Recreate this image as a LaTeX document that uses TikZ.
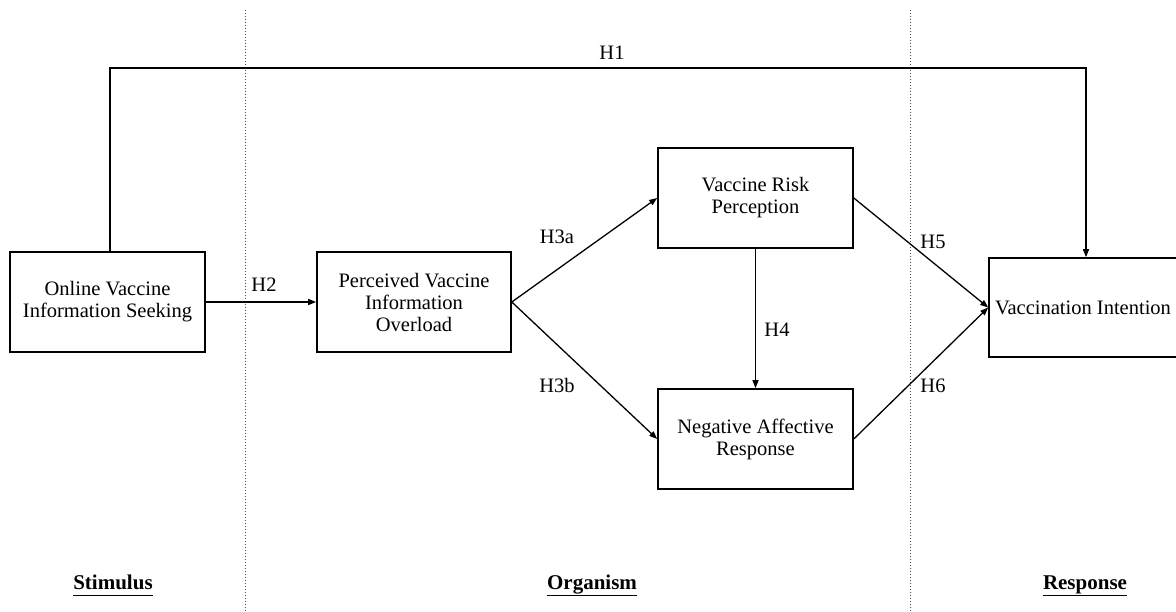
\documentclass[tikz,border=0pt]{standalone}
\usepackage{fontspec}
\setmainfont{Liberation Serif}
\usetikzlibrary{arrows.meta}
\begin{document}
\begin{tikzpicture}[x=1pt,y=-1pt,
  box/.style={draw,line width=1.6pt,rectangle,align=center,inner sep=0pt,
    font=\fontsize{20.5}{22}\selectfont},
  arr/.style={line width=1.3pt,-{Triangle[length=8pt,width=6pt]}},
  lab/.style={font=\fontsize{20.5}{22}\selectfont,inner sep=0pt},
  sect/.style={font=\fontsize{21}{24}\selectfont\bfseries,inner sep=0pt,anchor=base},
  divider/.style={dotted,line width=1pt,gray!60!black}]
\useasboundingbox (0,0) rectangle (1176,612);
\clip (0,0) rectangle (1176,612);
% dividers
\coordinate (d1t) at (245,10);
\coordinate (d1b) at (245,612);
\coordinate (d2t) at (910,10);
\coordinate (d2b) at (910,612);
\draw[divider] (d1t) -- (d1b);
\draw[divider] (d2t) -- (d2b);
% boxes
\node[box,minimum width=195pt,minimum height=100pt] (on) at (107.5,302) {Online Vaccine\\Information Seeking};
\node[box,minimum width=194pt,minimum height=100pt] (pv) at (414,302) {Perceived Vaccine\\Information\\Overload};
\node[box,minimum width=195pt,minimum height=100pt] (vrp) at (755.5,198) {Vaccine Risk\\Perception};
\node[box,minimum width=195pt,minimum height=100pt] (nar) at (755.5,439) {Negative Affective\\Response};
\node[box,minimum width=188pt,minimum height=99pt] (vi) at (1083,307.5) {Vaccination Intention};
% H1
\coordinate (h1a) at (110,68);
\coordinate (h1b) at (1086,68);
\draw[arr] (on.north -| h1a) -- (h1a) -- (h1b) -- (vi.north -| h1b);
% other paths
\draw[arr] (on.east) -- (pv.west);
\draw[arr] (pv.east) -- (vrp.west);
\draw[arr] (pv.east) -- (nar.west);
\draw[arr] (vrp.south) -- (nar.north);
\draw[arr] (vrp.east) -- (vi.west);
\draw[arr] (nar.east) -- (vi.west);
% labels
\node[lab] (lh1) at (612,53) {H1};
\node[lab] (lh2) at (264,285) {H2};
\node[lab] (lh3a) at (557,237) {H3a};
\node[lab] (lh3b) at (557,385) {H3b};
\node[lab] (lh4) at (777,330) {H4};
\node[lab] (lh5) at (933,242) {H5};
\node[lab] (lh6) at (933,386) {H6};
% sections
\node[sect] (s1) at (113,589) {\underline{Stimulus\vphantom{g}}};
\node[sect] (s2) at (592,589) {\underline{Organism\vphantom{g}}};
\node[sect] (s3) at (1085,589) {\underline{Response\vphantom{g}}};
\end{tikzpicture}
\end{document}
